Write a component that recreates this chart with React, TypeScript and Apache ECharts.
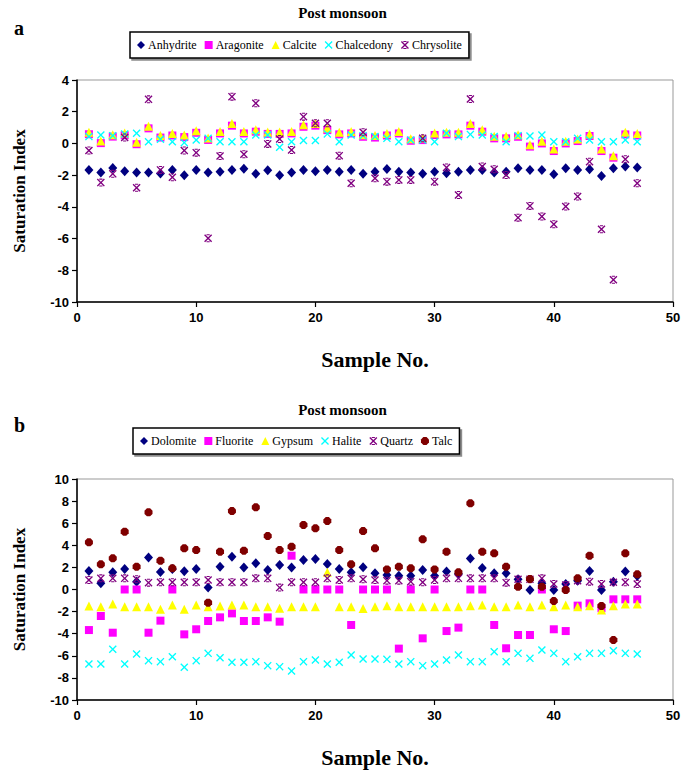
import React, { useEffect, useRef } from "react";
import * as echarts from "echarts";

const samples = [1,2,3,4,5,6,7,8,9,10,11,12,13,14,15,16,17,18,19,20,21,22,23,24,25,26,27,28,29,30,31,32,33,34,35,36,37,38,39,40,41,42,43,44,45,46,47];

const anhydrite = [-1.67,-1.84,-1.55,-1.76,-1.84,-1.84,-1.9,-1.67,-2.0,-1.67,-1.84,-1.78,-1.67,-1.59,-1.92,-1.69,-2.0,-1.84,-1.67,-1.76,-1.67,-1.78,-1.67,-1.92,-1.78,-1.61,-1.78,-1.84,-1.92,-1.78,-1.88,-1.78,-1.67,-1.67,-1.84,-1.78,-1.57,-1.67,-1.67,-1.95,-1.57,-1.67,-1.63,-2.05,-1.57,-1.46,-1.52];
const aragonite = [0.58,0.02,0.43,0.52,-0.05,0.95,0.37,0.5,0.4,0.67,0.22,0.63,1.12,0.63,0.74,0.6,0.6,0.63,1.05,1.12,0.84,0.57,0.63,0.42,0.37,0.5,0.63,0.17,0.21,0.53,0.57,0.57,1.12,0.74,0.32,0.32,0.42,-0.2,0.0,-0.48,0.0,0.15,0.47,-0.48,-0.9,0.57,0.5];
const calcite = [0.7,0.15,0.55,0.65,0.08,1.08,0.5,0.62,0.53,0.8,0.35,0.76,1.25,0.76,0.86,0.72,0.72,0.76,1.18,1.25,0.97,0.7,0.76,0.55,0.5,0.62,0.76,0.3,0.34,0.66,0.7,0.7,1.25,0.87,0.45,0.45,0.55,-0.08,0.13,-0.35,0.13,0.28,0.6,-0.35,-0.77,0.7,0.62];
const chalcedony = [0.43,0.53,0.49,0.6,0.64,0.11,0.26,0.11,0.05,0.22,0.32,0.11,0.11,0.11,0.53,0.53,-0.24,0.11,0.18,0.18,0.6,0.11,0.53,0.49,0.43,0.32,0.11,0.22,0.22,0.11,0.64,0.43,0.57,0.53,0.43,0.11,0.49,0.47,0.53,0.11,0.11,0.32,0.22,0.11,0.11,0.22,0.11];
const chrysolite = [-0.45,-2.47,-1.92,0.37,-2.79,2.78,-1.67,-2.13,-0.45,-0.58,-5.98,-0.79,2.95,-0.68,2.53,-0.03,0.28,-0.41,1.69,1.27,1.27,-0.77,-2.51,0.7,-2.2,-2.41,-2.3,-2.3,0.32,-2.41,-1.52,-3.25,2.8,-1.46,-1.63,-1.99,-4.68,-3.94,-4.61,-5.1,-3.98,-3.35,-1.15,-5.41,-8.6,-1.0,-2.51];

const dolomite = [1.67,0.56,1.55,1.85,0.7,2.9,1.58,1.85,1.65,1.85,0.17,2.07,2.97,1.98,2.37,1.76,2.22,1.98,2.67,2.76,2.31,1.85,1.55,2.01,1.46,1.31,1.25,1.25,1.76,1.25,1.62,1.4,2.8,1.95,1.46,1.46,0.92,-0.05,0.56,-0.05,0.5,0.8,1.67,-0.05,0.7,1.62,1.22];
const fluorite = [-3.67,-2.4,-3.91,0,0,-3.91,-2.82,0,-4.06,-3.6,-2.85,-2.52,-2.16,-2.85,-2.85,-2.52,-2.91,3.06,0,0,0,0,-3.21,0,0,0,-5.35,0,-4.42,0,-3.76,-3.45,0,0,-3.21,-5.32,-4.12,-4.12,0,-3.6,-3.76,-1.46,-1.25,-1.7,-0.89,-0.89,-0.89];
const gypsum = [-1.49,-1.55,-1.31,-1.55,-1.55,-1.55,-1.79,-1.4,-1.79,-1.4,-1.55,-1.49,-1.4,-1.4,-1.55,-1.55,-1.7,-1.55,-1.55,-1.55,1.55,-1.55,-1.55,-1.73,-1.55,-1.46,-1.55,-1.55,-1.55,-1.55,-1.55,-1.55,-1.46,-1.4,-1.55,-1.55,-1.4,-1.55,-1.4,-1.55,-1.4,-1.55,-1.46,-1.85,-1.46,-1.31,-1.31];
const halite = [-6.74,-6.74,-5.41,-6.74,-5.84,-6.44,-6.53,-6.08,-7.04,-6.44,-5.78,-6.17,-6.59,-6.59,-6.53,-6.89,-6.98,-7.38,-6.53,-6.38,-6.74,-6.59,-5.93,-6.29,-6.29,-6.32,-6.74,-6.53,-6.89,-6.74,-6.38,-5.93,-6.53,-6.53,-5.63,-6.53,-5.78,-6.23,-5.47,-5.78,-6.53,-6.08,-5.78,-5.78,-5.54,-5.78,-5.84];
const quartz = [0.86,1.01,1.01,1.01,0.92,0.62,0.65,0.65,0.65,0.65,0.86,0.65,0.65,0.65,1.01,1.01,0.17,0.65,0.65,0.65,1.01,0.86,1.01,0.92,0.86,0.8,0.8,0.71,0.65,0.86,1.01,1.01,1.01,1.01,1.01,0.62,0.92,0.92,1.01,0.5,0.41,0.8,0.71,0.5,0.65,0.65,0.5];
const talc = [4.27,2.28,2.82,5.23,2.07,6.98,2.61,1.92,3.73,3.57,-1.19,3.42,7.1,3.51,7.44,4.84,3.57,3.88,5.84,5.54,6.2,3.57,2.28,5.29,3.73,1.82,2.07,1.92,4.54,1.82,3.42,1.55,7.8,3.42,3.27,2.07,0.26,0.95,0.26,-1.04,-0.05,1.01,3.06,-1.49,-4.57,3.27,1.37];

const X_SYM = "path://M0,1.2 L1.2,0 L5,3.8 L8.8,0 L10,1.2 L6.2,5 L10,8.8 L8.8,10 L5,6.2 L1.2,10 L0,8.8 L3.8,5 Z";
const STAR_SYM = "path://M0,1.2 L1.2,0 L5,3.8 L8.8,0 L10,1.2 L6.2,5 L10,8.8 L8.8,10 L5,6.2 L1.2,10 L0,8.8 L3.8,5 Z M3,0 L7,0 L7,1.3 L3,1.3 Z M3,8.7 L7,8.7 L7,10 L3,10 Z";
const TALC_SYM = "path://M3,0 L7,0 L10,3 L10,7 L7,10 L3,10 L0,7 L0,3 Z";

const pair = (vals: number[]) => samples.map((s, i) => [s, vals[i]]);

export default function App() {
  const ref = useRef<HTMLDivElement>(null);
  useEffect(() => {
    if (!ref.current) return;
    const chart = echarts.init(ref.current, undefined, { renderer: "svg" });
    const tickFont = { fontFamily: "Liberation Sans", fontWeight: "bold" as const, fontSize: 13, color: "#000" };
    const nameFontY = { fontFamily: "Liberation Serif", fontWeight: "bold" as const, fontSize: 17, color: "#000" };
    const nameFontX = { fontFamily: "Liberation Serif", fontWeight: "bold" as const, fontSize: 22, color: "#000" };
    const mkX = (gi: number) => ({
      type: "value" as const,
      gridIndex: gi,
      min: 0,
      max: 50,
      interval: 10,
      name: "Sample No.",
      nameLocation: "middle" as const,
      nameGap: 46,
      nameTextStyle: nameFontX,
      axisLine: { show: true, onZero: false, lineStyle: { color: "#000", width: 1.5 } },
      axisTick: { show: true, length: 5, lineStyle: { color: "#000", width: 1.2 } },
      axisLabel: { ...tickFont, margin: 9 },
      splitLine: { show: false },
    });
    const mkY = (gi: number, min: number, max: number) => ({
      type: "value" as const,
      gridIndex: gi,
      min,
      max,
      interval: 2,
      name: "Saturation Index",
      nameLocation: "middle" as const,
      nameGap: 49,
      nameRotate: 90,
      nameTextStyle: nameFontY,
      axisLine: { show: true, onZero: false, lineStyle: { color: "#000", width: 1.5 } },
      axisTick: { show: true, length: 5, lineStyle: { color: "#000", width: 1.2 } },
      axisLabel: { ...tickFont, margin: 8 },
      splitLine: { show: false },
    });
    const sc = (name: string, gi: number, vals: number[], symbol: string, size: number | number[], color: string) => ({
      name,
      type: "scatter" as const,
      xAxisIndex: gi,
      yAxisIndex: gi,
      data: pair(vals),
      symbol,
      symbolSize: size,
      itemStyle: { color, opacity: 1 },
    });
    const legendBase = {
      orient: "horizontal" as const,
      selectedMode: false,
      itemWidth: 8,
      itemHeight: 8,
      itemGap: 8,
      padding: [7, 7, 7, 7],
      borderColor: "#000",
      borderWidth: 1.5,
      backgroundColor: "#fff",
      shadowColor: "rgba(0,0,0,0.45)",
      shadowOffsetX: 2,
      shadowOffsetY: 2,
      shadowBlur: 0,
      textStyle: { fontFamily: "Liberation Serif", fontSize: 12, color: "#000", padding: [0, 0, 0, -2] },
    };
    const titleStyle = { fontFamily: "Liberation Serif", fontWeight: "bold" as const, fontSize: 15, color: "#000" };
    const letterStyle = { fontFamily: "Liberation Serif", fontWeight: "bold" as const, fontSize: 20, color: "#000" };
    chart.setOption({
      animation: false,
      backgroundColor: "#fff",
      title: [
        { text: "Post monsoon", left: "center", top: 0, textStyle: titleStyle },
        { text: "a", left: 9, top: 13, textStyle: letterStyle },
        { text: "Post monsoon", left: "center", top: 397, textStyle: titleStyle },
        { text: "b", left: 9, top: 410, textStyle: letterStyle },
      ],
      legend: [
        { ...legendBase, left: 130, top: 32, data: ["Anhydrite", "Aragonite", "Calcite", "Chalcedony", "Chrysolite"] },
        { ...legendBase, left: 133, top: 428, data: ["Dolomite", "Fluorite", "Gypsum", "Halite", "Quartz", "Talc"] },
      ],
      grid: [
        { left: 77, top: 80, width: 596, height: 222, show: true, borderColor: "#999", borderWidth: 1, backgroundColor: "transparent" },
        { left: 77, top: 479, width: 596, height: 221, show: true, borderColor: "#999", borderWidth: 1, backgroundColor: "transparent" },
      ],
      xAxis: [mkX(0), mkX(1)],
      yAxis: [mkY(0, -10, 4), mkY(1, -10, 10)],
      series: [
        sc("Anhydrite", 0, anhydrite, "diamond", [9, 10], "#000080"),
        sc("Aragonite", 0, aragonite, "rect", 8, "#FF00FF"),
        sc("Calcite", 0, calcite, "triangle", 9, "#FFFF00"),
        sc("Chalcedony", 0, chalcedony, X_SYM, 8, "#00FFFF"),
        sc("Chrysolite", 0, chrysolite, STAR_SYM, 8, "#800080"),
        sc("Dolomite", 1, dolomite, "diamond", [9, 10], "#000080"),
        sc("Fluorite", 1, fluorite, "rect", 8, "#FF00FF"),
        sc("Gypsum", 1, gypsum, "triangle", 9, "#FFFF00"),
        sc("Halite", 1, halite, X_SYM, 8, "#00FFFF"),
        sc("Quartz", 1, quartz, STAR_SYM, 8, "#800080"),
        sc("Talc", 1, talc, TALC_SYM, 8, "#800000"),
      ],
    });
    return () => chart.dispose();
  }, []);
  return <div ref={ref} style={{ position: "absolute", left: 0, top: 0, width: 685, height: 772 }} />;
}
